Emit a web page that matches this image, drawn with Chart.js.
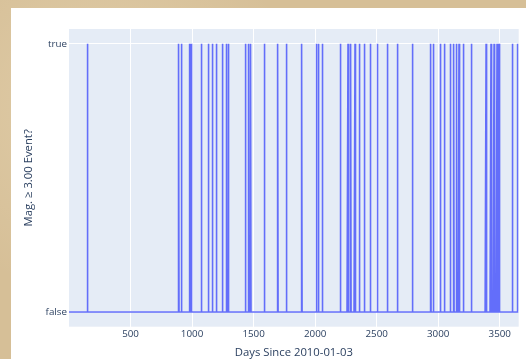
<!DOCTYPE html>
<html>
<head>
<meta charset="utf-8">
<script src="https://cdn.jsdelivr.net/npm/chart.js@4.4.1/dist/chart.umd.min.js"></script>
<style>
  html, body { margin: 0; padding: 0; width: 526px; height: 359px; overflow: hidden;
    background: #d6bf97; }
  body { background-image:
      radial-gradient(circle at 20% 30%, rgba(255,245,220,0.25) 0, rgba(255,245,220,0) 40%),
      radial-gradient(circle at 80% 70%, rgba(150,120,80,0.15) 0, rgba(150,120,80,0) 45%); }
  #card { position: absolute; left: 11px; top: 8px; width: 515px; height: 380px; background: #ffffff; }
  #c { position: absolute; left: 0; top: 0; }
</style>
</head>
<body>
<div id="card"><canvas id="c" width="515" height="380"></canvas></div>
<script>
// Days (since 2010-01-03) on which a magnitude >= 3.00 event occurred
const eventDays = [149, 893, 917, 978, 992, 994, 1078, 1135, 1167, 1199, 1246, 1279, 1283, 1299,
  1436, 1462, 1478, 1586, 1698, 1766, 1768, 1893, 2011, 2027, 2061, 2206, 2267, 2291, 2324,
  2358, 2362, 2402, 2448, 2508, 2587, 2589, 2670, 2672, 2793, 2941, 2962, 3017, 3051, 3100,
  3128, 3149, 3169, 3204, 3271, 3273, 3389, 3429, 3454, 3478, 3494, 3606, 3646];
const dayRange = [0, 3654];
const xTicks = [500, 1000, 1500, 2000, 2500, 3000, 3500];
const yTickLabels = ['false', 'true'];

const eventSet = new Set(eventDays);
const points = [];
for (let d = dayRange[0]; d <= dayRange[1]; d++) {
  points.push({ x: d, y: eventSet.has(d) ? 1 : 0 });
}

const FONT = '"Open Sans", "DejaVu Sans", sans-serif';
const TXT = '#2a3f5f';

const plotBg = {
  id: 'plotBg',
  beforeDraw(chart) {
    const { ctx, chartArea: a } = chart;
    ctx.save();
    ctx.fillStyle = '#e5ecf6';
    ctx.fillRect(a.left, a.top, a.right - a.left, a.bottom - a.top);
    ctx.restore();
  }
};

new Chart(document.getElementById('c'), {
  type: 'line',
  data: {
    datasets: [{
      data: points,
      borderColor: '#636efa',
      borderWidth: 1.6,
      pointRadius: 0,
      fill: false,
      tension: 0
    }]
  },
  options: {
    responsive: false,
    animation: false,
    parsing: true,
    layout: { padding: { top: 21, right: 7.3, left: 0, bottom: 0 } },
    plugins: { legend: { display: false }, tooltip: { enabled: false } },
    scales: {
      x: {
        type: 'linear',
        min: dayRange[0],
        max: dayRange[1],
        afterBuildTicks(scale) { scale.ticks = xTicks.map(v => ({ value: v })); },
        afterFit(scale) { scale.height = 380 - 318.7; },
        grid: { color: '#ffffff', lineWidth: 1, drawTicks: false },
        border: { display: false },
        ticks: { color: TXT, font: { family: FONT, size: 9.8 }, padding: 2, maxRotation: 0,
          callback: v => String(v) },
        title: { display: true, text: 'Days Since 2010-01-03', color: TXT,
          font: { family: FONT, size: 11.3 }, padding: { top: 0, bottom: 28.5 } }
      },
      y: {
        type: 'linear',
        min: -0.055,
        max: 1.055,
        afterBuildTicks(scale) { scale.ticks = [{ value: 0 }, { value: 1 }]; },
        afterFit(scale) { scale.width = 58; },
        grid: { color: '#ffffff', lineWidth: 1, drawTicks: false },
        border: { display: false },
        ticks: { color: TXT, font: { family: FONT, size: 9.8 }, padding: 2,
          callback: v => yTickLabels[v] },
        title: { display: true, text: 'Mag. ≥ 3.00 Event?', color: TXT,
          font: { family: FONT, size: 11.3 }, padding: { top: 11.2, bottom: 0 } }
      }
    }
  },
  plugins: [plotBg]
});
</script>
</body>
</html>
